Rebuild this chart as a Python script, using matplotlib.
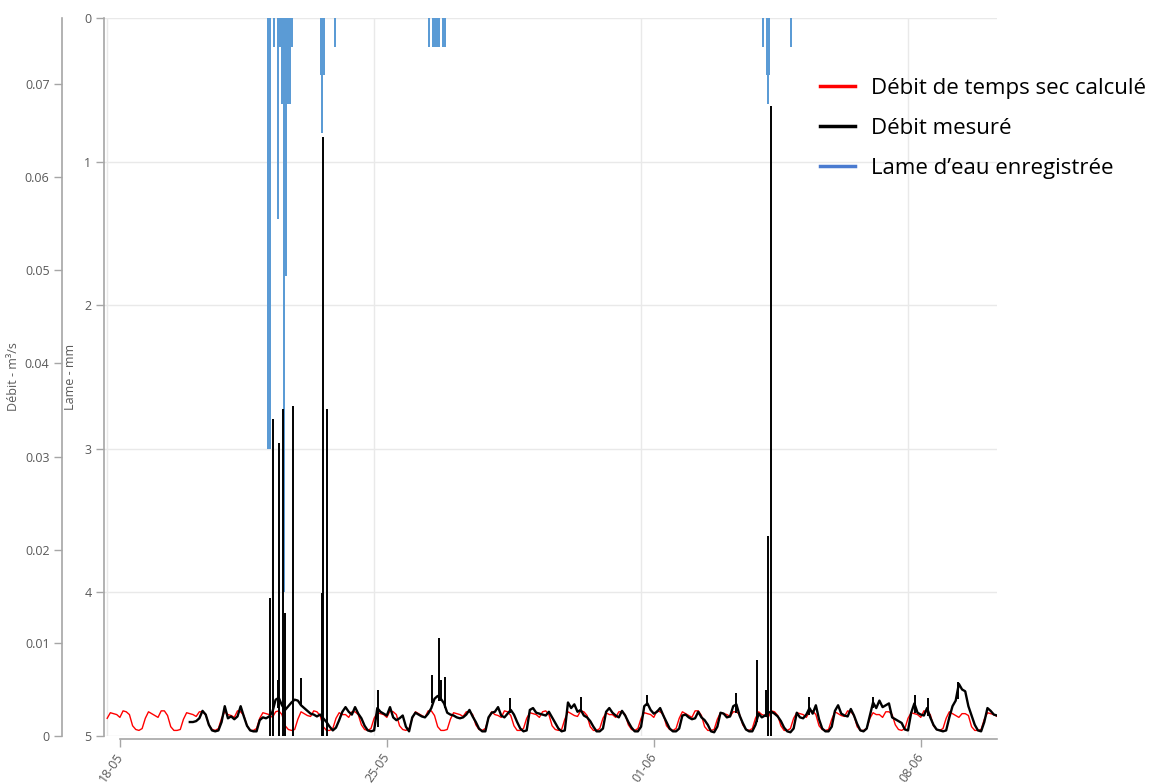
import numpy as np
import matplotlib
matplotlib.use("Agg")
import matplotlib.pyplot as plt
from matplotlib.lines import Line2D

plt.rcParams['font.family'] = ['Open Sans', 'DejaVu Sans']

# ---------------- data ----------------
# time axis: hours since the first vertical gridline
x_tick_hours = [8.2, 176.2, 344.2, 512.2]
x_tick_labels = ['18-05', '25-05', '01-06', '08-06']
grid_hours = [0, 168, 336, 504]

debit_ticks = [0, 0.01, 0.02, 0.03, 0.04, 0.05, 0.06, 0.07]
debit_tick_labels = ['0', '0.01', '0.02', '0.03', '0.04', '0.05', '0.06', '0.07']
lame_ticks = [0, 1, 2, 3, 4, 5]

# Calculated dry-weather flow (L/s), one row per day, 2-hour steps
red_ls_rows = [
    [1.9, 2.5, 2.4, 2.3, 2.0, 2.7, 2.6, 2.3, 1.1, 0.7, 0.6, 0.8],
    [1.9, 2.6, 2.4, 2.2, 2.0, 2.7, 2.7, 2.2, 1.0, 0.6, 0.6, 0.7],
    [1.8, 2.5, 2.4, 2.3, 2.1, 2.6, 2.6, 2.3, 1.2, 0.7, 0.6, 0.8],
    [1.9, 2.6, 2.3, 2.2, 2.0, 2.7, 2.6, 2.2, 1.1, 0.6, 0.6, 0.8],
    [1.9, 2.5, 2.4, 2.3, 2.0, 2.6, 2.7, 2.3, 1.1, 0.7, 0.6, 0.7],
    [1.8, 2.6, 2.4, 2.2, 2.1, 2.7, 2.6, 2.2, 1.0, 0.6, 0.6, 0.8],
    [1.9, 2.5, 2.3, 2.3, 2.0, 2.6, 2.6, 2.3, 1.2, 0.7, 0.6, 0.8],
    [1.9, 2.5, 2.4, 2.3, 2.0, 2.7, 2.6, 2.3, 1.1, 0.7, 0.6, 0.8],
    [1.9, 2.6, 2.4, 2.2, 2.0, 2.7, 2.7, 2.2, 1.0, 0.6, 0.6, 0.7],
    [1.8, 2.5, 2.4, 2.3, 2.1, 2.6, 2.6, 2.3, 1.2, 0.7, 0.6, 0.8],
    [1.9, 2.6, 2.3, 2.2, 2.0, 2.7, 2.6, 2.2, 1.1, 0.6, 0.6, 0.8],
    [1.9, 2.5, 2.4, 2.3, 2.0, 2.6, 2.7, 2.3, 1.1, 0.7, 0.6, 0.7],
    [1.8, 2.6, 2.4, 2.2, 2.1, 2.7, 2.6, 2.2, 1.0, 0.6, 0.6, 0.8],
    [1.9, 2.5, 2.3, 2.3, 2.0, 2.6, 2.6, 2.3, 1.2, 0.7, 0.6, 0.8],
    [1.9, 2.5, 2.4, 2.3, 2.0, 2.7, 2.6, 2.3, 1.1, 0.7, 0.6, 0.8],
    [1.9, 2.6, 2.4, 2.2, 2.0, 2.7, 2.7, 2.2, 1.0, 0.6, 0.6, 0.7],
    [1.8, 2.5, 2.4, 2.3, 2.1, 2.6, 2.6, 2.3, 1.2, 0.7, 0.6, 0.8],
    [1.9, 2.6, 2.3, 2.2, 2.0, 2.7, 2.6, 2.2, 1.1, 0.6, 0.6, 0.8],
    [1.9, 2.5, 2.4, 2.3, 2.0, 2.6, 2.7, 2.3, 1.1, 0.7, 0.6, 0.7],
    [1.8, 2.6, 2.4, 2.2, 2.1, 2.7, 2.6, 2.2, 1.0, 0.6, 0.6, 0.8],
    [1.9, 2.5, 2.3, 2.3, 2.0, 2.6, 2.6, 2.3, 1.2, 0.7, 0.6, 0.8],
    [1.9, 2.5, 2.4, 2.3, 2.0, 2.7, 2.6, 2.3, 1.1, 0.7, 0.6, 0.8],
    [1.9, 2.6, 2.4, 2.2, 2.0, 2.4, 2.4, 2.2, 1.0, 0.6, 0.6, 0.7],
    [1.8, 2.5, 2.4, 2.3, 2.1, 2.6, 2.6, 2.3, 1.2, 0.7, 0.6, 0.8],
]
red_start_hour = 0

# Measured flow (L/s), 2-hour steps, starting at hour 52
black_ls_rows = [
    [1.5, 1.5, 1.6, 1.9, 2.7, 2.3, 1.2, 0.6, 0.5, 0.6],
    [1.5, 3.2, 1.9, 2.1, 1.8, 2.1, 3.2, 2.1, 1.1, 0.6, 0.5, 0.5],
    [1.7, 2.0, 1.9, 2.1, 2.6, 3.9, 4.1, 3.3, 2.8, 3.2, 3.6, 3.9],
    [3.8, 3.3, 3.0, 2.7, 2.4, 2.3, 2.1, 2.3, 1.9, 1.5, 1.0, 0.6],
    [0.9, 1.7, 2.6, 3.1, 2.6, 2.3, 3.1, 2.4, 1.9, 1.1, 0.6, 0.5],
    [0.6, 3.0, 2.6, 2.4, 2.2, 3.1, 2.0, 1.7, 1.9, 2.2, 1.0, 0.5],
    [2.0, 2.5, 2.3, 2.1, 2.0, 2.4, 3.0, 4.0, 4.3, 4.0, 3.5, 2.5],
    [2.3, 2.2, 2.0, 1.9, 2.0, 2.3, 2.8, 2.1, 1.5, 0.8, 0.5, 0.5],
    [2.0, 2.5, 2.6, 3.1, 2.2, 2.0, 2.4, 2.8, 2.3, 1.5, 0.8, 0.5],
    [0.6, 2.8, 3.0, 2.5, 2.4, 2.3, 2.2, 2.6, 2.0, 1.4, 0.8, 0.5],
    [0.6, 3.6, 3.0, 3.4, 2.6, 2.8, 2.2, 2.0, 1.6, 1.0, 0.5, 0.5],
    [0.8, 2.6, 3.0, 2.5, 2.2, 2.0, 2.7, 2.2, 1.5, 0.9, 0.5, 0.5],
    [1.0, 3.2, 3.5, 2.8, 2.4, 2.6, 3.0, 2.2, 1.5, 0.8, 0.5, 0.5],
    [0.8, 2.2, 2.3, 2.0, 1.8, 1.9, 2.6, 2.0, 1.7, 1.2, 0.5, 0.4],
    [1.0, 2.5, 2.4, 2.0, 2.1, 3.2, 3.4, 2.2, 1.4, 0.7, 0.5, 0.5],
    [1.2, 2.4, 2.0, 2.2, 2.5, 2.6, 2.4, 2.1, 1.6, 0.9, 0.5, 0.4],
    [0.8, 2.5, 2.0, 1.9, 2.3, 3.0, 2.4, 3.3, 1.8, 0.8, 0.5, 0.5],
    [1.0, 2.7, 3.3, 2.4, 2.2, 2.1, 2.9, 2.2, 1.3, 0.6, 0.5, 0.8],
    [2.2, 3.6, 3.0, 3.8, 3.1, 3.3, 3.5, 2.0, 1.8, 1.6, 1.4, 0.7],
    [0.6, 2.5, 3.5, 2.5, 2.3, 2.2, 3.0, 2.0, 1.2, 0.7, 0.6, 0.5],
    [0.6, 2.0, 3.2, 3.8, 5.6, 5.0, 4.8, 3.2, 2.2, 1.2, 0.6, 0.5],
    [1.5, 3.0, 2.7, 2.3, 2.2],
]
black_start_hour = 52

# Short peaks of the measured flow: hour, bottom (L/s), top (L/s)
spike_hours = [102.6, 104.5, 107.6, 108.2, 110.8, 112.0, 117.1, 122.1, 135.3,
               135.9, 138.4, 170.5, 204.5, 208.9, 210.3, 212.7, 253.6, 298.3,
               339.8, 395.8, 409.1, 414.7, 416.0, 417.9, 441.6, 482.0, 508.3,
               516.5, 535.5]
spike_bottom_ls = [0, 0, 3.0, 0, 0, 0, 0, 3.3, 0,
                   0, 0, 1.0, 3.5, 3.8, 3.8, 3.0, 2.5, 2.6,
                   3.2, 2.5, 1.5, 2.0, 0, 0, 2.3, 3.0, 2.5,
                   2.2, 4.0]
spike_peak_ls = [14.8, 34.0, 6.0, 31.5, 35.1, 13.2, 35.4, 6.2, 15.4,
                 64.3, 35.1, 4.9, 6.5, 10.5, 6.0, 6.3, 4.1, 4.2,
                 4.4, 4.6, 8.2, 4.9, 21.5, 67.6, 4.2, 4.2, 4.4,
                 4.1, 5.8]

# Recorded rainfall depth (mm)
rain_hours = [101.3, 102.6, 105.1, 107.6, 108.9, 110.1, 111.4, 112.0, 112.6,
              113.9, 115.2, 116.4, 134.7, 135.3, 136.6, 143.5, 202.6, 205.2,
              206.4, 207.7, 208.9, 211.4, 212.7, 412.8, 415.3, 416.0, 416.6,
              430.5]
rain_mm = [3.0, 3.0, 0.2, 1.4, 0.2, 0.6, 4.0, 0.4, 1.8,
           0.6, 0.6, 0.2, 0.4, 0.8, 0.4, 0.2, 0.2, 0.2,
           0.2, 0.2, 0.2, 0.2, 0.2, 0.2, 0.4, 0.6, 0.4,
           0.2]

legend_labels = ['Débit de temps sec calculé', 'Débit mesuré', 'Lame d\u2019eau enregistrée']

# ---------------- build series ----------------
red_vals = np.concatenate([np.array(r) for r in red_ls_rows]) / 1000.0
red_hours = red_start_hour + 2 * np.arange(len(red_vals))
black_vals = np.concatenate([np.array(r) for r in black_ls_rows]) / 1000.0
black_hours = black_start_hour + 2 * np.arange(len(black_vals))

# ---------------- figure ----------------
W, H = 1150, 784
PX = 72.0 / 100  # points per pixel
fig = plt.figure(figsize=(W / 100, H / 100), dpi=100)
L, R, T, B = 104, 997, 18, 736
ax = fig.add_axes([L / W, 1 - B / H, (R - L) / W, (B - T) / H])
ax2 = ax.twinx()
ax.set_zorder(ax2.get_zorder() + 1)
ax.patch.set_visible(False)

grey_txt = '#595959'
spine_col = '#a6a6a6'
grid_col = '#e9e9e9'

# rain bars (inverted axis)
ax2.bar(rain_hours, rain_mm, width=1.0, color='#5b9bd5', linewidth=0, zorder=2)
ax2.set_ylim(5, 0)
ax2.set_yticks(lame_ticks)
ax2.set_yticklabels([str(t) for t in lame_ticks])
ax2.yaxis.tick_left()
ax2.yaxis.set_label_position('left')
ax2.grid(axis='y', color=grid_col, lw=1, zorder=0)
for h in grid_hours:
    ax2.axvline(h, color=grid_col, lw=1, zorder=0)
for s in ['top', 'right', 'bottom']:
    ax2.spines[s].set_visible(False)
ax2.spines['left'].set_color(spine_col)
ax2.spines['left'].set_linewidth(1.2)
ax2.tick_params(axis='y', colors=spine_col, labelcolor=grey_txt, labelsize=9,
                length=6, width=1, pad=3, left=True, right=False,
                labelleft=True, labelright=False)
ax2.set_ylabel('Lame - mm', fontsize=9, color=grey_txt)
ax2.yaxis.set_label_coords(-0.030, 0.5)

# flows
ax.plot(red_hours, red_vals, color='#ff0000', lw=1.0, zorder=2)
ax.plot(black_hours, black_vals, color='black', lw=1.7, zorder=3)
ax.vlines(spike_hours, np.array(spike_bottom_ls) / 1000.0,
          np.array(spike_peak_ls) / 1000.0, color='black', lw=1.4, zorder=3)

ax.set_xlim(-2, 560)
ax.set_ylim(0, 0.0771)
ax.set_yticks(debit_ticks)
ax.set_yticklabels(debit_tick_labels)
for s in ['top', 'right']:
    ax.spines[s].set_visible(False)
ax.spines['left'].set_position(('outward', 42 * PX))
ax.spines['left'].set_bounds(0, 0.0771)
ax.spines['left'].set_color(spine_col)
ax.spines['left'].set_linewidth(1.2)
ax.spines['bottom'].set_position(('outward', 3 * PX))
ax.spines['bottom'].set_bounds(x_tick_hours[0], 560)
ax.spines['bottom'].set_color(spine_col)
ax.spines['bottom'].set_linewidth(1.2)
ax.tick_params(axis='y', colors=spine_col, labelcolor=grey_txt, labelsize=9,
               length=6, width=1, pad=3)
ax.set_ylabel('Débit - m³/s', fontsize=9, color=grey_txt)
ax.yaxis.set_label_coords(-0.094, 0.5)

ax.set_xticks(x_tick_hours)
ax.set_xticklabels(x_tick_labels, rotation=55, ha='right',
                   rotation_mode='anchor', va='center')
ax.tick_params(axis='x', colors=spine_col, labelcolor=grey_txt, labelsize=9,
               length=6, width=1, pad=5)

handles = [Line2D([], [], color='#ff0000', lw=2.5),
           Line2D([], [], color='black', lw=2.5),
           Line2D([], [], color='#4a7bd0', lw=2.5)]
fig.legend(handles, legend_labels, loc='upper left',
           bbox_to_anchor=(820 / W, 1 - 78 / H), frameon=False,
           fontsize=16, handlelength=1.58, handletextpad=0.72,
           labelspacing=0.86, borderpad=0, borderaxespad=0)

fig.savefig('out.png', dpi=100)
